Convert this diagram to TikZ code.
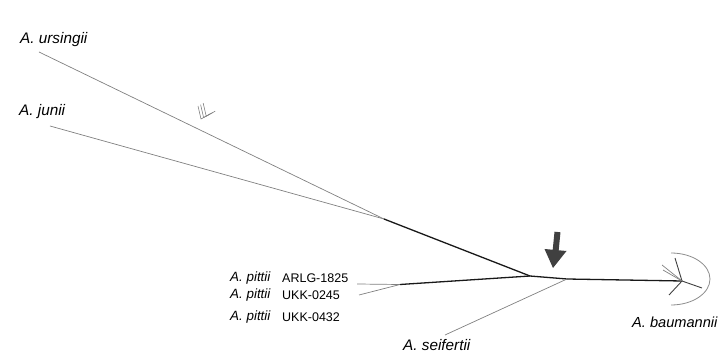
\documentclass[tikz,border=0pt]{standalone}
\usepackage{fontspec}
\setmainfont{Liberation Sans}
\begin{document}
\begin{tikzpicture}[x=1pt,y=-1pt,
  lbl/.style={anchor=west,inner sep=0pt,font=\fontsize{15.3}{17}\selectfont\itshape},
  plbl/.style={anchor=west,inner sep=0pt,font=\fontsize{13.4}{15}\selectfont\itshape},
  code/.style={anchor=west,inner sep=0pt,font=\fontsize{12.5}{14}\selectfont},
  thin/.style={draw=black!50,line width=0.7pt},
  thick/.style={draw=black!90,line width=1.3pt},
  mid/.style={draw=black!75,line width=0.9pt}]
\useasboundingbox (0,0) rectangle (720,355);
% labels
\node[lbl] (urs) at (20,40) {A. ursingii};
\node[lbl] (jun) at (19,112) {A. junii};
\node[plbl] (p1) at (230,278) {A. pittii};
\node[code] (c1) at (282,278) {ARLG-1825};
\node[plbl] (p2) at (230,295) {A. pittii};
\node[code] (c2) at (282,295) {UKK-0245};
\node[plbl] (p3) at (230,317) {A. pittii};
\node[code] (c3) at (282,317) {UKK-0432};
\node[lbl] (sei) at (403,345) {A. seifertii};
\node[lbl,font=\fontsize{14.6}{16}\selectfont\itshape] (bau) at (632,322) {A. baumannii};
% tree coordinates
\coordinate (ursE) at (39,52);
\coordinate (junE) at (50,126);
\coordinate (j1) at (384,219);
\coordinate (pit1) at (357,284);
\coordinate (pit2) at (359,295);
\coordinate (jp) at (400,284.5);
\coordinate (n1) at (530,276);
\coordinate (n2) at (567,279);
\coordinate (seiE) at (445,335);
\coordinate (bc) at (682,281);
% branches
\draw[thin] (ursE) -- (j1);
\draw[thin] (junE) -- (j1);
\draw[thick] (j1) -- (n1);
\draw[thin] (pit1) -- (jp);
\draw[thin] (pit2) -- (jp);
\draw[thick] (jp) -- (n1);
\draw[thick] (n1) -- (n2);
\draw[thin] (n2) -- (seiE);
\draw[thick] (n2) -- (bc);
% baumannii cluster
\coordinate (b1) at (675,258);
\coordinate (b2) at (662,265);
\coordinate (b3) at (663,270);
\coordinate (b4) at (702,288);
\coordinate (b5) at (669,295);
\draw[mid] (bc) -- (b1);
\draw[thin] (bc) -- (b2);
\draw[thin] (bc) -- (b3);
\draw[mid] (bc) -- (b4);
\draw[mid] (bc) -- (b5);
\draw[draw=black!45,line width=0.8pt] (671,253) arc[start angle=-90,end angle=90,x radius=39,y radius=26];
% chevrons
\foreach \d in {0,1,2}{
  \draw[draw=black!50,line width=0.6pt] (198+2.6*\d,106-1.4*\d) -- (201+2.6*\d,119-1.4*\d) -- (210+2.6*\d,114-1.4*\d);
}
% arrow
\coordinate (aT) at (557.5,232);
\coordinate (aB) at (555.5,252);
\draw[black!75,line width=6pt] (aT) -- (aB);
\fill[black!75] (544.5,249) -- (566.5,251) -- (553,268) -- cycle;
\end{tikzpicture}
\end{document}
